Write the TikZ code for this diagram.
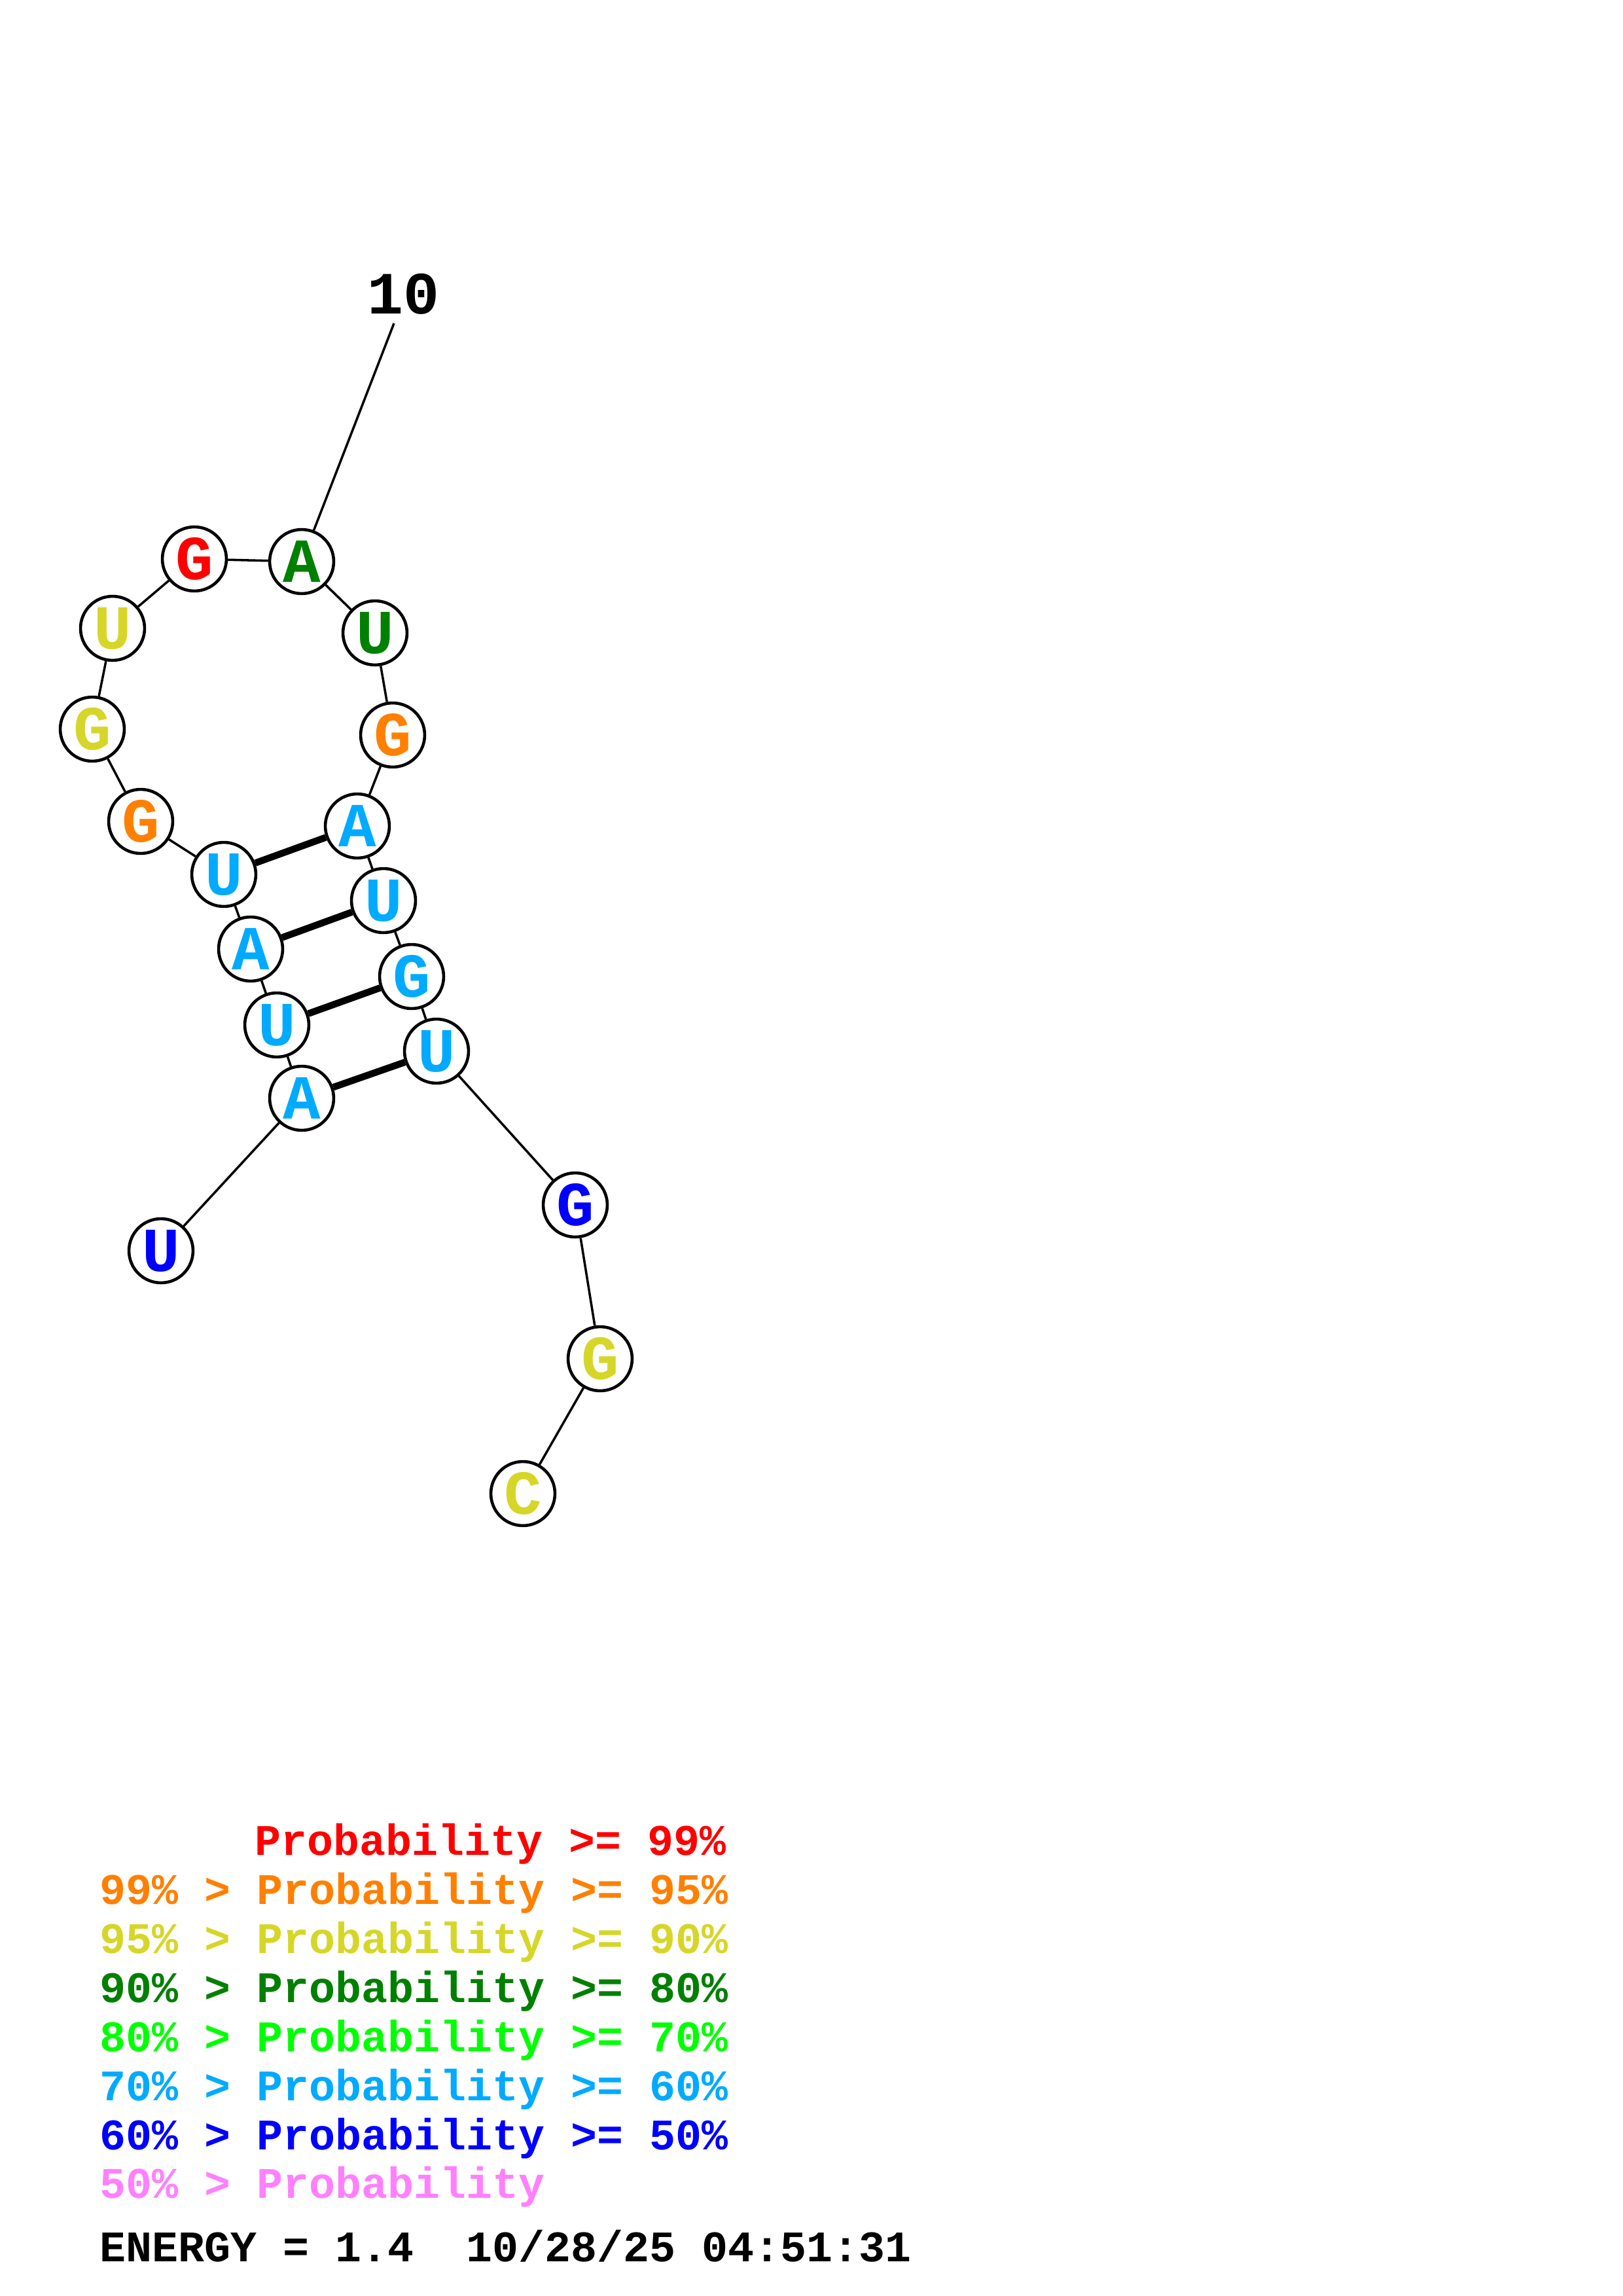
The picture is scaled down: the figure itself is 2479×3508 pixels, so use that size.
\documentclass[tikz,border=0pt]{standalone}
\usepackage{fontspec}
\newfontfamily\mono{Liberation Mono}
\definecolor{pred}{RGB}{255,0,0}
\definecolor{porange}{RGB}{255,128,0}
\definecolor{pyellow}{RGB}{214,214,41}
\definecolor{pdgreen}{RGB}{0,128,0}
\definecolor{pgreen}{RGB}{0,255,0}
\definecolor{plblue}{RGB}{0,170,255}
\definecolor{pblue}{RGB}{0,0,255}
\definecolor{ppink}{RGB}{255,128,255}
\tikzset{
  nt/.style={circle, draw=black, line width=1.1pt, fill=white, minimum size=23.5pt, inner sep=0pt,
    font=\mono\bfseries\fontsize{23}{23}\selectfont},
  bb/.style={line width=0.85pt},
  pairline/.style={line width=2.5pt},
  legend/.style={anchor=base west, inner sep=0pt, font=\mono\bfseries\fontsize{16}{16}\selectfont},
  numlbl/.style={inner sep=0pt, font=\mono\bfseries\fontsize{22}{22}\selectfont}
}
\begin{document}
\begin{tikzpicture}[x=0.24pt, y=-0.24pt]
\useasboundingbox[fill=white] (0,0) rectangle (2479,3508);
% nucleotides
\node[nt, text=pblue]   (n1)  at (246,1911) {U};
\node[nt, text=plblue]  (n2)  at (461,1678) {A};
\node[nt, text=plblue]  (n3)  at (423,1566) {U};
\node[nt, text=plblue]  (n4)  at (383,1450) {A};
\node[nt, text=plblue]  (n5)  at (342,1336) {U};
\node[nt, text=porange] (n6)  at (215,1255) {G};
\node[nt, text=pyellow] (n7)  at (141,1114) {G};
\node[nt, text=pyellow] (n8)  at (172,960)  {U};
\node[nt, text=pred]    (n9)  at (297,854)  {G};
\node[nt, text=pdgreen] (n10) at (461,858)  {A};
\node[nt, text=pdgreen] (n11) at (573,967)  {U};
\node[nt, text=porange] (n12) at (600,1123) {G};
\node[nt, text=plblue]  (n13) at (546,1262) {A};
\node[nt, text=plblue]  (n14) at (586,1376) {U};
\node[nt, text=plblue]  (n15) at (629,1492) {G};
\node[nt, text=plblue]  (n16) at (667,1606) {U};
\node[nt, text=pblue]   (n17) at (879,1841) {G};
\node[nt, text=pyellow] (n18) at (917,2076) {G};
\node[nt, text=pyellow] (n19) at (799,2282) {C};
% backbone
\foreach \a/\b in {n1/n2,n2/n3,n3/n4,n4/n5,n5/n6,n6/n7,n7/n8,n8/n9,n9/n10,n10/n11,n11/n12,n12/n13,n13/n14,n14/n15,n15/n16,n16/n17,n17/n18,n18/n19}
  \draw[bb] (\a) -- (\b);
% pairs
\draw[pairline] (n2) -- (n16);
\draw[pairline] (n3) -- (n15);
\draw[pairline] (n4) -- (n14);
\draw[pairline] (n5) -- (n13);
% label 10
\node[numlbl] (l10) at (616,449) {10};
\coordinate (l10end) at (602,494);
\draw[bb] (l10end) -- (n10);
% legend
\node[legend, text=pred]    (lg1) at (389,2834) {Probability >= 99\%};
\node[legend, text=porange] (lg2) at (152,2909) {99\% > Probability >= 95\%};
\node[legend, text=pyellow] (lg3) at (152,2984) {95\% > Probability >= 90\%};
\node[legend, text=pdgreen] (lg4) at (152,3059) {90\% > Probability >= 80\%};
\node[legend, text=pgreen]  (lg5) at (152,3134) {80\% > Probability >= 70\%};
\node[legend, text=plblue]  (lg6) at (152,3209) {70\% > Probability >= 60\%};
\node[legend, text=pblue]   (lg7) at (152,3284) {60\% > Probability >= 50\%};
\node[legend, text=ppink]   (lg8) at (152,3358) {50\% > Probability};
\node[legend, text=black]   (en)  at (152,3455) {ENERGY = 1.4\ \ 10/28/25 04:51:31};
\end{tikzpicture}
\end{document}
